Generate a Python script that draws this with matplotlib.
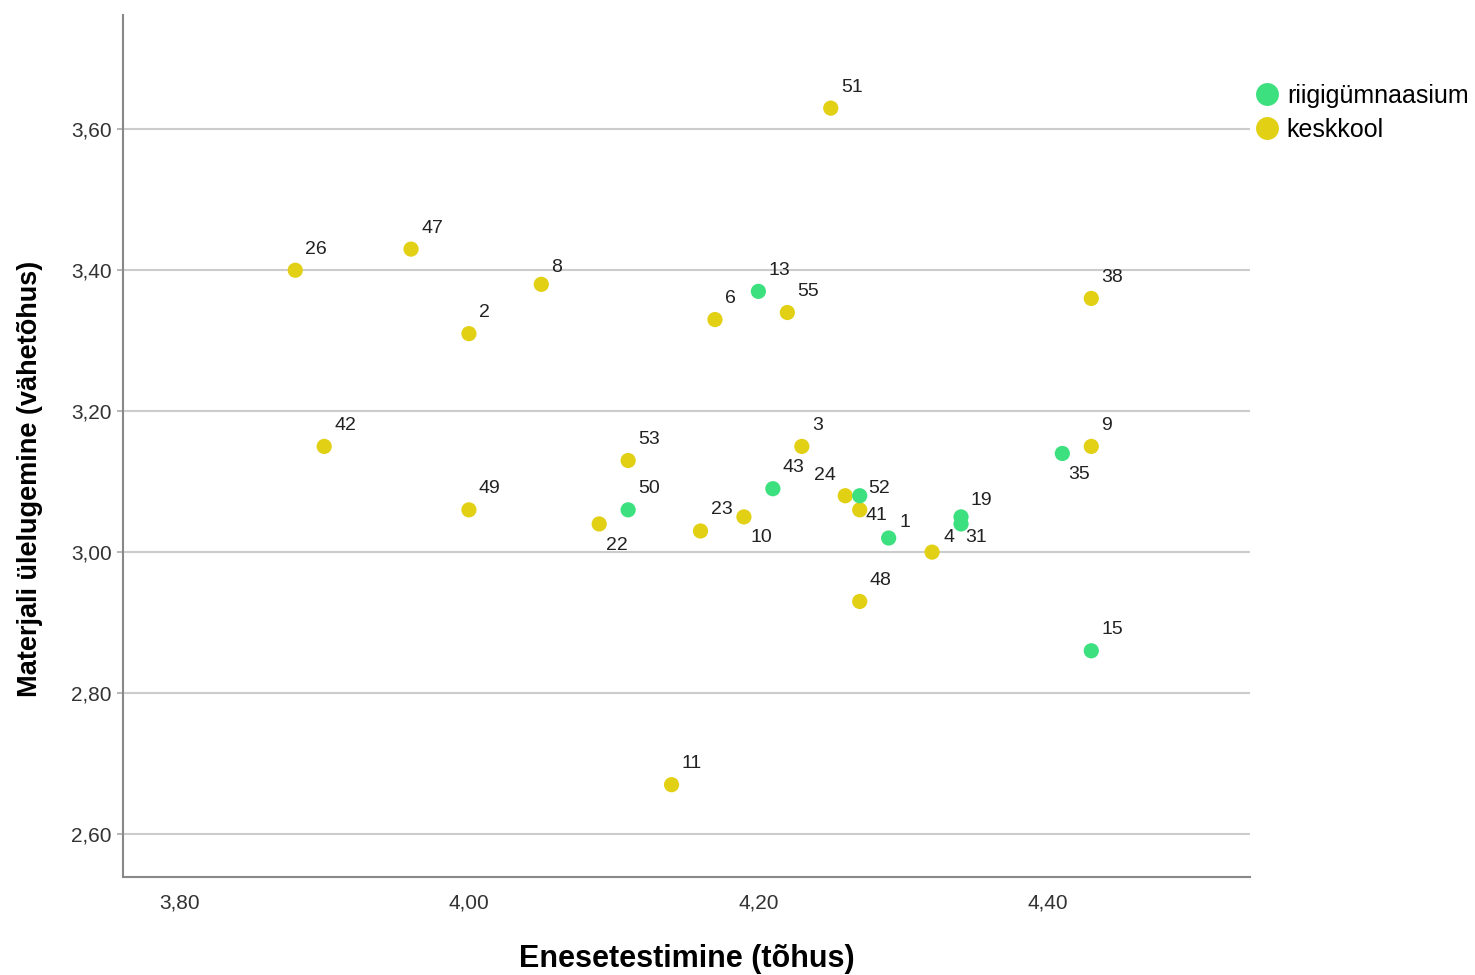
import matplotlib.pyplot as plt
from matplotlib.lines import Line2D
from matplotlib.ticker import FuncFormatter

plt.rcParams['font.family'] = ['Liberation Sans', 'DejaVu Sans']

# case number, x (Enesetestimine), y (Materjali ülelugemine), school type
cases = [51, 26, 47, 8, 2, 6, 13, 55, 38, 42, 53, 49, 50, 22, 23, 10, 3, 43,
         24, 52, 41, 1, 4, 19, 31, 48, 15, 35, 9, 11]
x_vals = [4.25, 3.88, 3.96, 4.05, 4.00, 4.17, 4.20, 4.22, 4.43, 3.90, 4.11, 4.00,
          4.11, 4.09, 4.16, 4.19, 4.23, 4.21, 4.26, 4.27, 4.27, 4.29, 4.32, 4.34,
          4.34, 4.27, 4.43, 4.41, 4.43, 4.14]
y_vals = [3.63, 3.40, 3.43, 3.38, 3.31, 3.33, 3.37, 3.34, 3.36, 3.15, 3.13, 3.06,
          3.06, 3.04, 3.03, 3.05, 3.15, 3.09, 3.08, 3.08, 3.06, 3.02, 3.00, 3.05,
          3.04, 2.93, 2.86, 3.14, 3.15, 2.67]
school = ['k', 'k', 'k', 'k', 'k', 'k', 'r', 'k', 'k', 'k', 'k', 'k',
          'r', 'k', 'k', 'k', 'k', 'r', 'k', 'r', 'k', 'r', 'k', 'r',
          'r', 'k', 'r', 'r', 'k', 'k']

group_names = {'r': 'riigigümnaasium', 'k': 'keskkool'}
colors = {'r': '#3de07f', 'k': '#e2d015'}

# label offsets in pixels (left edge, vertical centre) for the crowded ones
default_off = (10, 21)
label_off = {22: (7, -22), 10: (7, -21), 35: (6, -21), 31: (4, -14),
             41: (6, -6), 24: (-31, 20), 52: (9, 7), 19: (9, 16),
             1: (11, 16), 4: (11, 15), 8: (10, 17)}

fig = plt.figure(figsize=(14.75, 9.75), dpi=100)
ax = fig.add_axes([0.0834, 0.1005, 0.764, 0.884])

for g in ['k', 'r']:
    xs = [x for x, s in zip(x_vals, school) if s == g]
    ys = [y for y, s in zip(y_vals, school) if s == g]
    ax.scatter(xs, ys, s=120, color=colors[g], edgecolors='none', zorder=3)

for c, x, y in zip(cases, x_vals, y_vals):
    dx, dy = label_off.get(c, default_off)
    ax.annotate(str(c), (x, y), xytext=(dx, dy), textcoords='offset pixels',
                ha='left', va='center', fontsize=14, color='#222222', zorder=4)

ax.set_xlim(3.761, 4.5396)
ax.set_ylim(2.539, 3.762)
ax.set_xticks([3.8, 4.0, 4.2, 4.4])
ax.set_yticks([2.6, 2.8, 3.0, 3.2, 3.4, 3.6])
fmt = FuncFormatter(lambda v, p: f'{v:.2f}'.replace('.', ','))
ax.xaxis.set_major_formatter(fmt)
ax.yaxis.set_major_formatter(fmt)
ax.tick_params(axis='x', length=0, pad=12, labelsize=15, labelcolor='#333333')
ax.tick_params(axis='y', length=4, width=1.2, color='#aaaaaa', pad=4,
               labelsize=15, labelcolor='#333333')
ax.grid(axis='y', color='#cccccc', linewidth=1.5, zorder=0)
ax.set_axisbelow(True)

for side in ['top', 'right']:
    ax.spines[side].set_visible(False)
for side in ['left', 'bottom']:
    ax.spines[side].set_color('#888888')
    ax.spines[side].set_linewidth(1.5)

ax.set_xlabel('Enesetestimine (tõhus)', fontsize=22, fontweight='bold')
ax.xaxis.set_label_coords(0.5, -0.078)
ax.set_ylabel('Materjali ülelugemine (vähetõhus)', fontsize=19.5, fontweight='bold')
ax.yaxis.set_label_coords(-0.071, 0.4617)

handles = [Line2D([], [], marker='o', linestyle='none', markersize=16.5,
                  markerfacecolor=colors[g], markeredgecolor='none',
                  label=group_names[g]) for g in ['r', 'k']]
fig.legend(handles=handles, loc='upper left', bbox_to_anchor=(0.8436, 0.924),
           frameon=False, fontsize=18, handletextpad=0.3, labelspacing=0.4,
           borderaxespad=0, handlelength=1.0)

fig.savefig('out.png', dpi=100)
